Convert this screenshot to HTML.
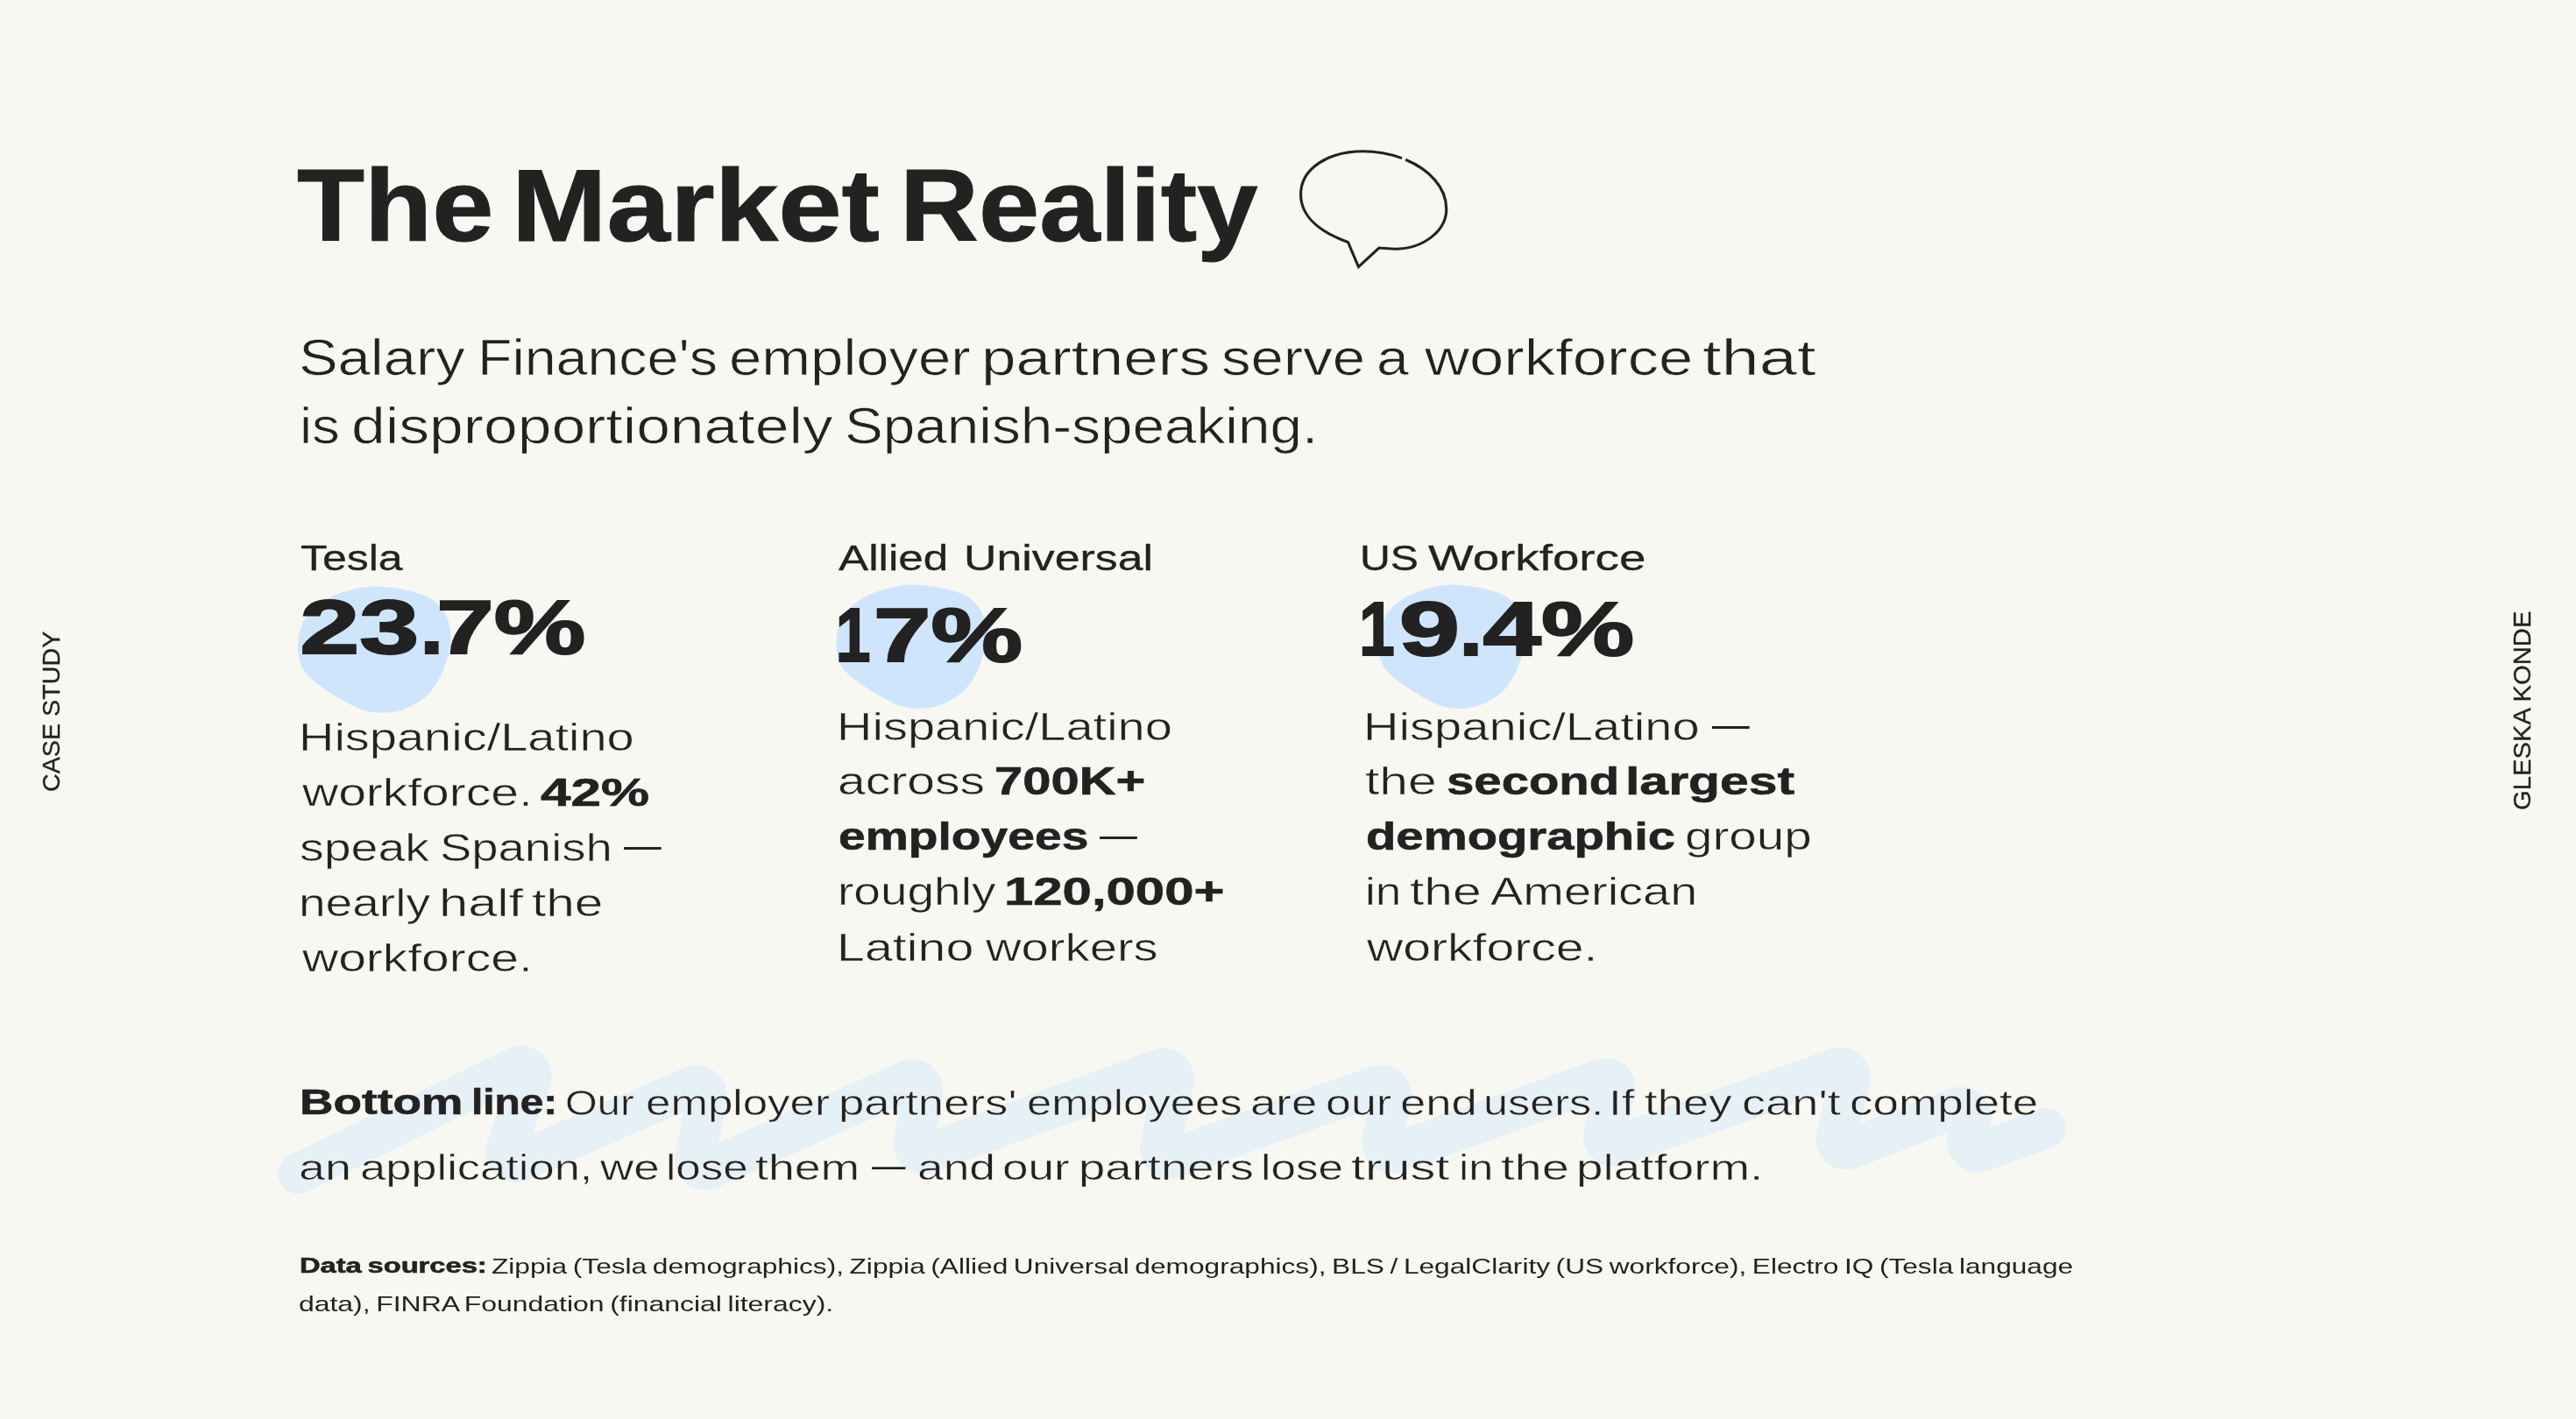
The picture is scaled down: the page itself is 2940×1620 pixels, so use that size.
<!DOCTYPE html>
<html lang="en">
<head>
<meta charset="utf-8">
<title>The Market Reality</title>
<style>
html,body{margin:0;padding:0;}
body{width:2940px;height:1620px;background:#f8f8f3;position:relative;overflow:hidden;font-family:"Liberation Sans",sans-serif;color:#222222;}
svg.art{position:absolute;left:0;top:0;width:2940px;height:1620px;}
.t{position:absolute;white-space:pre;line-height:1;transform-origin:0 0;font-family:"Liberation Sans",sans-serif;color:#222222;will-change:transform;}
h1,h2,p,div,section,aside{margin:0;padding:0;font:inherit;}
span.t{font-weight:400;}
b.t{font-weight:700;}
.g{display:inline-block;width:0;transform-origin:0 0;white-space:pre;}
</style>
</head>
<body>
<svg class="art" viewBox="0 0 2940 1620">
<path d="M429.60,669.50C436.61,669.71 447.64,670.88 455.06,672.05C462.49,673.22 468.21,674.70 474.15,676.51C480.09,678.31 486.03,680.23 490.70,682.88C495.37,685.53 498.97,688.93 502.15,692.44C505.34,695.94 507.88,699.87 509.79,703.91C511.70,707.94 512.82,713.04 513.61,716.65C514.39,720.26 514.50,721.96 514.50,725.57C514.50,729.18 514.39,733.64 513.61,738.31C512.82,742.98 511.28,748.72 509.79,753.60C508.31,758.49 506.82,762.95 504.70,767.62C502.58,772.29 500.03,777.18 497.06,781.64C494.09,786.10 490.70,790.77 486.88,794.38C483.06,797.99 478.40,800.75 474.15,803.30C469.91,805.85 465.88,808.08 461.42,809.67C456.97,811.27 452.30,812.18 447.42,812.86C442.54,813.54 437.24,813.96 432.15,813.75C427.06,813.54 421.54,812.79 416.88,811.58C412.21,810.37 409.24,808.93 404.15,806.49C399.06,804.04 392.69,800.75 386.33,796.93C379.97,793.11 371.48,787.48 365.96,783.55C360.45,779.62 356.63,776.65 353.24,773.35C349.84,770.06 347.62,767.51 345.60,763.80C343.59,760.08 342.08,755.30 341.15,751.05C340.21,746.81 340.00,742.56 340.00,738.31C340.00,734.06 340.32,729.82 341.15,725.57C341.97,721.32 343.16,716.86 344.96,712.83C346.77,708.79 348.89,705.18 351.96,701.36C355.04,697.53 358.96,693.29 363.42,689.89C367.87,686.49 373.18,683.52 378.69,680.97C384.21,678.42 390.78,676.30 396.51,674.60C402.24,672.90 407.54,671.62 413.06,670.77C418.57,669.92 422.60,669.29 429.60,669.50Z" fill="#cfe5fb"/><path d="M1042.69,667.50C1049.58,667.71 1060.44,668.85 1067.75,670.00C1075.05,671.14 1080.69,672.60 1086.54,674.36C1092.38,676.13 1098.23,678.00 1102.82,680.60C1107.42,683.20 1110.97,686.53 1114.10,689.96C1117.23,693.39 1119.74,697.24 1121.61,701.19C1123.49,705.14 1124.60,710.13 1125.37,713.67C1126.15,717.20 1126.25,718.87 1126.25,722.40C1126.25,725.94 1126.15,730.31 1125.37,734.88C1124.60,739.46 1123.08,745.07 1121.61,749.85C1120.15,754.64 1118.69,759.00 1116.60,763.58C1114.52,768.16 1112.01,772.94 1109.09,777.31C1106.16,781.67 1102.82,786.25 1099.07,789.78C1095.31,793.32 1090.71,796.02 1086.54,798.52C1082.36,801.01 1078.40,803.20 1074.01,804.76C1069.63,806.32 1065.03,807.21 1060.23,807.88C1055.43,808.54 1050.21,808.96 1045.20,808.75C1040.19,808.54 1034.76,807.81 1030.17,806.63C1025.57,805.44 1022.65,804.03 1017.64,801.64C1012.63,799.25 1006.36,796.02 1000.10,792.28C993.84,788.54 985.48,783.02 980.06,779.18C974.63,775.33 970.87,772.42 967.53,769.20C964.19,765.97 962.00,763.48 960.01,759.84C958.03,756.20 956.55,751.52 955.63,747.36C954.71,743.20 954.50,739.04 954.50,734.88C954.50,730.72 954.81,726.56 955.63,722.40C956.44,718.24 957.61,713.88 959.39,709.92C961.16,705.97 963.25,702.44 966.28,698.69C969.30,694.95 973.17,690.79 977.55,687.46C981.93,684.14 987.15,681.23 992.58,678.73C998.01,676.23 1004.48,674.15 1010.12,672.49C1015.76,670.83 1020.98,669.58 1026.41,668.75C1031.84,667.92 1035.80,667.29 1042.69,667.50Z" fill="#cfe5fb"/><path d="M1659.40,667.50C1666.14,667.71 1676.78,668.85 1683.94,670.00C1691.10,671.14 1696.62,672.60 1702.35,674.36C1708.07,676.13 1713.80,678.00 1718.30,680.60C1722.80,683.20 1726.28,686.53 1729.35,689.96C1732.41,693.39 1734.87,697.24 1736.71,701.19C1738.55,705.14 1739.63,710.13 1740.39,713.67C1741.15,717.20 1741.25,718.87 1741.25,722.40C1741.25,725.94 1741.15,730.31 1740.39,734.88C1739.63,739.46 1738.14,745.07 1736.71,749.85C1735.28,754.64 1733.85,759.00 1731.80,763.58C1729.76,768.16 1727.30,772.94 1724.44,777.31C1721.57,781.67 1718.30,786.25 1714.62,789.78C1710.94,793.32 1706.44,796.02 1702.35,798.52C1698.26,801.01 1694.37,803.20 1690.08,804.76C1685.78,806.32 1681.28,807.21 1676.58,807.88C1671.87,808.54 1666.76,808.96 1661.85,808.75C1656.94,808.54 1651.62,807.81 1647.12,806.63C1642.62,805.44 1639.76,804.03 1634.85,801.64C1629.94,799.25 1623.81,796.02 1617.67,792.28C1611.53,788.54 1603.35,783.02 1598.04,779.18C1592.72,775.33 1589.04,772.42 1585.76,769.20C1582.49,765.97 1580.34,763.48 1578.40,759.84C1576.46,756.20 1575.00,751.52 1574.10,747.36C1573.20,743.20 1573.00,739.04 1573.00,734.88C1573.00,730.72 1573.31,726.56 1574.10,722.40C1574.90,718.24 1576.05,713.88 1577.79,709.92C1579.52,705.97 1581.57,702.44 1584.54,698.69C1587.50,694.95 1591.29,690.79 1595.58,687.46C1599.88,684.14 1604.99,681.23 1610.31,678.73C1615.62,676.23 1621.97,674.15 1627.49,672.49C1633.01,670.83 1638.12,669.58 1643.44,668.75C1648.76,667.92 1652.65,667.29 1659.40,667.50Z" fill="#cfe5fb"/>
<path d="M340.00,1340.00L589.29,1218.07A12.00,12.00 0 0 1 605.84,1232.95L577.56,1310.72A12.00,12.00 0 0 0 593.63,1325.82L790.06,1240.14A12.00,12.00 0 0 1 806.63,1253.43L793.42,1321.31A12.00,12.00 0 0 0 810.10,1334.55L1036.26,1233.29A12.00,12.00 0 0 1 1052.97,1246.36L1042.70,1303.46A12.00,12.00 0 0 0 1058.61,1316.86L1323.79,1220.36A12.00,12.00 0 0 1 1339.64,1234.06L1324.33,1308.10A12.00,12.00 0 0 0 1340.11,1321.83L1571.85,1239.19A12.00,12.00 0 0 1 1587.63,1252.94L1577.38,1302.04A12.00,12.00 0 0 0 1593.16,1315.79L1828.08,1231.83A12.00,12.00 0 0 1 1843.67,1246.40L1830.31,1293.66A12.00,12.00 0 0 0 1845.87,1308.24L2095.92,1219.48A12.00,12.00 0 0 1 2111.57,1233.70L2095.61,1297.56A12.00,12.00 0 0 0 2111.58,1311.66L2233.32,1264.61A12.00,12.00 0 0 1 2249.48,1277.80L2245.45,1301.64A12.00,12.00 0 0 0 2261.40,1314.91L2335.00,1288.00" fill="none" stroke="#e5f0f7" stroke-width="46" stroke-linecap="round" stroke-linejoin="round"/>
<path d="M1604.16,182.30C1631.07,193.53 1650.77,213.84 1650.77,238.68C1650.77,263.84 1624.17,284.21 1591.82,284.21L1573.84,283.01L1550.47,304.58L1538.49,276.42C1508.53,265.76 1484.57,248.26 1484.57,221.90C1484.57,191.94 1516.32,172.77 1555.87,172.77C1571.16,172.77 1586.36,175.57 1599.96,180.64" fill="none" stroke="#222222" stroke-width="3.1" stroke-linecap="butt" stroke-linejoin="miter"/>
</svg>
<h1 class="title">
 <b class="t" style="left:339.46px;top:176.46px;font-size:117px;-webkit-text-stroke:1.0px #222222;transform:scaleX(1.0784)">The</b>
 <b class="t" style="left:583.51px;top:176.46px;font-size:117px;-webkit-text-stroke:1.0px #222222;transform:scaleX(1.1136)">Market</b>
 <b class="t" style="left:1026.83px;top:176.46px;font-size:117px;-webkit-text-stroke:1.0px #222222;transform:scaleX(1.0646)">Reality</b>
</h1>
<p class="subtitle">
 <span class="t" style="left:341.23px;top:379.75px;font-size:57px;-webkit-text-stroke:0.71px #f8f8f3;transform:scaleX(1.1735)">Salary</span>
 <span class="t" style="left:545.07px;top:379.75px;font-size:57px;-webkit-text-stroke:0.71px #f8f8f3;transform:scaleX(1.1316)">Finance&#x27;s</span>
 <span class="t" style="left:832.23px;top:379.75px;font-size:57px;-webkit-text-stroke:0.71px #f8f8f3;transform:scaleX(1.1759)">employer</span>
 <span class="t" style="left:1120.31px;top:379.75px;font-size:57px;-webkit-text-stroke:0.71px #f8f8f3;transform:scaleX(1.2482)">partners</span>
 <span class="t" style="left:1394.40px;top:379.75px;font-size:57px;-webkit-text-stroke:0.71px #f8f8f3;transform:scaleX(1.1767)">serve</span>
 <span class="t" style="left:1571.26px;top:379.75px;font-size:57px;-webkit-text-stroke:0.71px #f8f8f3;transform:scaleX(1.1609)">a</span>
 <span class="t" style="left:1625.80px;top:379.75px;font-size:57px;-webkit-text-stroke:0.71px #f8f8f3;transform:scaleX(1.2396)">workforce</span>
 <span class="t" style="left:1943.26px;top:379.75px;font-size:57px;-webkit-text-stroke:0.71px #f8f8f3;transform:scaleX(1.3621)">that</span>
 <span class="t" style="left:341.77px;top:457.50px;font-size:57px;-webkit-text-stroke:0.71px #f8f8f3;transform:scaleX(1.1126)">is</span>
 <span class="t" style="left:401.12px;top:457.50px;font-size:57px;-webkit-text-stroke:0.71px #f8f8f3;transform:scaleX(1.2217)">disproportionately</span>
 <span class="t" style="left:964.29px;top:457.50px;font-size:57px;-webkit-text-stroke:0.71px #f8f8f3;transform:scaleX(1.1519)">Spanish-speaking.</span>
</p>
<section class="stat">
 <h2 class="label">
  <span class="t" style="left:342.68px;top:616.82px;font-size:40.5px;-webkit-text-stroke:0.3px #222222;transform:scaleX(1.2327)">Tesla</span>
 </h2>
 <div class="num">
  <b class="t" style="left:0;top:673.10px;font-size:87.3px;-webkit-text-stroke:2.0px #222222;"><span class="g" style="transform:translateX(342.20px) scaleX(1.4003)">23</span><span class="g" style="transform:translateX(479.62px) scaleX(1.0938)">.</span><span class="g" style="transform:translateX(498.30px) scaleX(1.3476)">7%</span></b>
 </div>
 <p class="desc">
  <span class="t" style="left:341.30px;top:820.59px;font-size:43.6px;-webkit-text-stroke:0.55px #f8f8f3;transform:scaleX(1.2838)">Hispanic/Latino</span>
  <span class="t" style="left:344.70px;top:883.84px;font-size:43.6px;-webkit-text-stroke:0.55px #f8f8f3;transform:scaleX(1.3066)">workforce.</span>
  <b class="t" style="left:616.68px;top:883.54px;font-size:43.6px;-webkit-text-stroke:0.6px #222222;transform:scaleX(1.4210)">42%</b>
  <span class="t" style="left:342.13px;top:946.84px;font-size:43.6px;-webkit-text-stroke:0.55px #f8f8f3;transform:scaleX(1.2719)">speak</span>
  <span class="t" style="left:502.41px;top:946.84px;font-size:43.6px;-webkit-text-stroke:0.55px #f8f8f3;transform:scaleX(1.2488)">Spanish</span>
  <span class="t" style="left:712.00px;top:944.34px;font-size:43.6px;transform:scaleX(0.9773)">—</span>
  <span class="t" style="left:341.13px;top:1010.09px;font-size:43.6px;-webkit-text-stroke:0.55px #f8f8f3;transform:scaleX(1.2630)">nearly</span>
  <span class="t" style="left:500.52px;top:1010.09px;font-size:43.6px;-webkit-text-stroke:0.55px #f8f8f3;transform:scaleX(1.3677)">half</span>
  <span class="t" style="left:606.63px;top:1010.09px;font-size:43.6px;-webkit-text-stroke:0.55px #f8f8f3;transform:scaleX(1.3433)">the</span>
  <span class="t" style="left:344.70px;top:1073.09px;font-size:43.6px;-webkit-text-stroke:0.55px #f8f8f3;transform:scaleX(1.3066)">workforce.</span>
 </p>
</section>
<section class="stat">
 <h2 class="label">
  <span class="t" style="left:957.19px;top:616.82px;font-size:40.5px;-webkit-text-stroke:0.3px #222222;transform:scaleX(1.2651)">Allied</span>
  <span class="t" style="left:1100.10px;top:616.82px;font-size:40.5px;-webkit-text-stroke:0.3px #222222;transform:scaleX(1.2797)">Universal</span>
 </h2>
 <div class="num">
  <b class="t" style="left:0;top:681.60px;font-size:87.3px;-webkit-text-stroke:2.0px #222222;"><span class="g" style="transform:translateX(953.73px) scaleX(0.8182)">1</span><span class="g" style="transform:translateX(997.05px) scaleX(1.3476)">7%</span></b>
 </div>
 <p class="desc">
  <span class="t" style="left:955.30px;top:808.59px;font-size:43.6px;-webkit-text-stroke:0.55px #f8f8f3;transform:scaleX(1.2846)">Hispanic/Latino</span>
  <span class="t" style="left:956.33px;top:871.34px;font-size:43.6px;-webkit-text-stroke:0.55px #f8f8f3;transform:scaleX(1.3089)">across</span>
  <b class="t" style="left:1135.32px;top:871.04px;font-size:43.6px;-webkit-text-stroke:0.6px #222222;transform:scaleX(1.3300)">700K+</b>
  <b class="t" style="left:956.61px;top:934.04px;font-size:43.6px;-webkit-text-stroke:0.6px #222222;transform:scaleX(1.2661)">employees</b>
  <span class="t" style="left:1254.50px;top:931.84px;font-size:43.6px;transform:scaleX(0.9886)">—</span>
  <span class="t" style="left:955.88px;top:997.34px;font-size:43.6px;-webkit-text-stroke:0.55px #f8f8f3;transform:scaleX(1.2621)">roughly</span>
  <b class="t" style="left:1146.41px;top:997.04px;font-size:43.6px;-webkit-text-stroke:0.6px #222222;transform:scaleX(1.3736)">120,000+</b>
  <span class="t" style="left:955.19px;top:1060.59px;font-size:43.6px;-webkit-text-stroke:0.55px #f8f8f3;transform:scaleX(1.3159)">Latino</span>
  <span class="t" style="left:1124.69px;top:1060.59px;font-size:43.6px;-webkit-text-stroke:0.55px #f8f8f3;transform:scaleX(1.2889)">workers</span>
 </p>
</section>
<section class="stat">
 <h2 class="label">
  <span class="t" style="left:1551.61px;top:616.82px;font-size:40.5px;-webkit-text-stroke:0.3px #222222;transform:scaleX(1.1894)">US</span>
  <span class="t" style="left:1629.70px;top:616.82px;font-size:40.5px;-webkit-text-stroke:0.3px #222222;transform:scaleX(1.3515)">Workforce</span>
 </h2>
 <div class="num">
  <b class="t" style="left:0;top:675.10px;font-size:87.3px;-webkit-text-stroke:2.0px #222222;"><span class="g" style="transform:translateX(1550.89px) scaleX(0.8409)">1</span><span class="g" style="transform:translateX(1596.64px) scaleX(1.4278)">9</span><span class="g" style="transform:translateX(1665.62px) scaleX(1.0938)">.</span><span class="g" style="transform:translateX(1692.50px) scaleX(1.3680)">4%</span></b>
 </div>
 <p class="desc">
  <span class="t" style="left:1556.29px;top:808.59px;font-size:43.6px;-webkit-text-stroke:0.55px #f8f8f3;transform:scaleX(1.2872)">Hispanic/Latino</span>
  <span class="t" style="left:1953.75px;top:806.09px;font-size:43.6px;transform:scaleX(0.9830)">—</span>
  <span class="t" style="left:1558.38px;top:871.34px;font-size:43.6px;-webkit-text-stroke:0.55px #f8f8f3;transform:scaleX(1.3475)">the</span>
  <b class="t" style="left:1650.85px;top:871.04px;font-size:43.6px;-webkit-text-stroke:0.6px #222222;transform:scaleX(1.2918)">second</b>
  <b class="t" style="left:1855.10px;top:871.04px;font-size:43.6px;-webkit-text-stroke:0.6px #222222;transform:scaleX(1.3514)">largest</b>
  <b class="t" style="left:1558.60px;top:934.04px;font-size:43.6px;-webkit-text-stroke:0.6px #222222;transform:scaleX(1.2901)">demographic</b>
  <span class="t" style="left:1922.85px;top:934.34px;font-size:43.6px;-webkit-text-stroke:0.55px #f8f8f3;transform:scaleX(1.2994)">group</span>
  <span class="t" style="left:1557.73px;top:997.34px;font-size:43.6px;-webkit-text-stroke:0.55px #f8f8f3;transform:scaleX(1.2183)">in</span>
  <span class="t" style="left:1609.13px;top:997.34px;font-size:43.6px;-webkit-text-stroke:0.55px #f8f8f3;transform:scaleX(1.3475)">the</span>
  <span class="t" style="left:1700.65px;top:997.34px;font-size:43.6px;-webkit-text-stroke:0.55px #f8f8f3;transform:scaleX(1.2835)">American</span>
  <span class="t" style="left:1560.45px;top:1060.59px;font-size:43.6px;-webkit-text-stroke:0.55px #f8f8f3;transform:scaleX(1.3104)">workforce.</span>
 </p>
</section>
<p class="bottomline">
 <b class="t" style="left:341.52px;top:1238.42px;font-size:40.5px;-webkit-text-stroke:0.6px #222222;transform:scaleX(1.3142)">Bottom</b>
 <b class="t" style="left:537.99px;top:1238.42px;font-size:40.5px;-webkit-text-stroke:0.6px #222222;transform:scaleX(1.1803)">line:</b>
 <span class="t" style="left:644.79px;top:1238.72px;font-size:40.5px;-webkit-text-stroke:0.51px #f8f8f3;transform:scaleX(1.1638)">Our</span>
 <span class="t" style="left:737.17px;top:1238.72px;font-size:40.5px;-webkit-text-stroke:0.51px #f8f8f3;transform:scaleX(1.2608)">employer</span>
 <span class="t" style="left:957.07px;top:1238.72px;font-size:40.5px;-webkit-text-stroke:0.51px #f8f8f3;transform:scaleX(1.3021)">partners&#x27;</span>
 <span class="t" style="left:1172.18px;top:1238.72px;font-size:40.5px;-webkit-text-stroke:0.51px #f8f8f3;transform:scaleX(1.2545)">employees</span>
 <span class="t" style="left:1427.12px;top:1238.72px;font-size:40.5px;-webkit-text-stroke:0.51px #f8f8f3;transform:scaleX(1.3017)">are</span>
 <span class="t" style="left:1513.39px;top:1238.72px;font-size:40.5px;-webkit-text-stroke:0.51px #f8f8f3;transform:scaleX(1.2822)">our</span>
 <span class="t" style="left:1598.37px;top:1238.72px;font-size:40.5px;-webkit-text-stroke:0.51px #f8f8f3;transform:scaleX(1.2984)">end</span>
 <span class="t" style="left:1693.20px;top:1238.72px;font-size:40.5px;-webkit-text-stroke:0.51px #f8f8f3;transform:scaleX(1.2437)">users.</span>
 <span class="t" style="left:1835.72px;top:1238.72px;font-size:40.5px;-webkit-text-stroke:0.51px #f8f8f3;transform:scaleX(1.3167)">If</span>
 <span class="t" style="left:1877.17px;top:1238.72px;font-size:40.5px;-webkit-text-stroke:0.51px #f8f8f3;transform:scaleX(1.3022)">they</span>
 <span class="t" style="left:1987.82px;top:1238.72px;font-size:40.5px;-webkit-text-stroke:0.51px #f8f8f3;transform:scaleX(1.3390)">can&#x27;t</span>
 <span class="t" style="left:2110.86px;top:1238.72px;font-size:40.5px;-webkit-text-stroke:0.51px #f8f8f3;transform:scaleX(1.3096)">complete</span>
 <span class="t" style="left:341.33px;top:1312.72px;font-size:40.5px;-webkit-text-stroke:0.51px #f8f8f3;transform:scaleX(1.3287)">an</span>
 <span class="t" style="left:410.88px;top:1312.72px;font-size:40.5px;-webkit-text-stroke:0.51px #f8f8f3;transform:scaleX(1.2954)">application,</span>
 <span class="t" style="left:684.73px;top:1312.72px;font-size:40.5px;-webkit-text-stroke:0.51px #f8f8f3;transform:scaleX(1.3056)">we</span>
 <span class="t" style="left:759.66px;top:1312.72px;font-size:40.5px;-webkit-text-stroke:0.51px #f8f8f3;transform:scaleX(1.2595)">lose</span>
 <span class="t" style="left:862.16px;top:1312.72px;font-size:40.5px;-webkit-text-stroke:0.51px #f8f8f3;transform:scaleX(1.3241)">them</span>
 <span class="t" style="left:995.00px;top:1310.22px;font-size:40.5px;transform:scaleX(0.9451)">—</span>
 <span class="t" style="left:1047.10px;top:1312.72px;font-size:40.5px;-webkit-text-stroke:0.51px #f8f8f3;transform:scaleX(1.3180)">and</span>
 <span class="t" style="left:1144.36px;top:1312.72px;font-size:40.5px;-webkit-text-stroke:0.51px #f8f8f3;transform:scaleX(1.3088)">our</span>
 <span class="t" style="left:1230.72px;top:1312.72px;font-size:40.5px;-webkit-text-stroke:0.51px #f8f8f3;transform:scaleX(1.3465)">partners</span>
 <span class="t" style="left:1439.15px;top:1312.72px;font-size:40.5px;-webkit-text-stroke:0.51px #f8f8f3;transform:scaleX(1.2666)">lose</span>
 <span class="t" style="left:1542.14px;top:1312.72px;font-size:40.5px;-webkit-text-stroke:0.51px #f8f8f3;transform:scaleX(1.4262)">trust</span>
 <span class="t" style="left:1665.19px;top:1312.72px;font-size:40.5px;-webkit-text-stroke:0.51px #f8f8f3;transform:scaleX(1.2457)">in</span>
 <span class="t" style="left:1713.40px;top:1312.72px;font-size:40.5px;-webkit-text-stroke:0.51px #f8f8f3;transform:scaleX(1.3820)">the</span>
 <span class="t" style="left:1799.45px;top:1312.72px;font-size:40.5px;-webkit-text-stroke:0.51px #f8f8f3;transform:scaleX(1.3538)">platform.</span>
</p>
<p class="sources">
 <b class="t" style="left:341.76px;top:1433.30px;font-size:24.4px;word-spacing:-1.71px;-webkit-text-stroke:0.6px #222222;transform:scaleX(1.3388)">Data sources:</b>
 <span class="t" style="left:561.00px;top:1433.60px;font-size:24.4px;word-spacing:-1.71px;transform:scaleX(1.2978)">Zippia (Tesla demographics), Zippia (Allied Universal demographics), BLS / LegalClarity (US workforce), Electro IQ (Tesla language</span>
 <span class="t" style="left:341.39px;top:1476.85px;font-size:24.4px;word-spacing:-1.71px;transform:scaleX(1.3086)">data), FINRA Foundation (financial literacy).</span>
</p>
<aside class="rails">
 <span class="t" style="left:44.94px;top:903.54px;font-size:27.6px;-webkit-text-stroke:0.3px #222222;transform:rotate(-90deg) scaleX(1.0399)">CASE STUDY</span>
 <span class="t" style="left:2865.21px;top:924.97px;font-size:27.4px;-webkit-text-stroke:0.3px #222222;transform:rotate(-90deg) scaleX(1.0672)">GLESKA KONDE</span>
</aside>
</body>
</html>
